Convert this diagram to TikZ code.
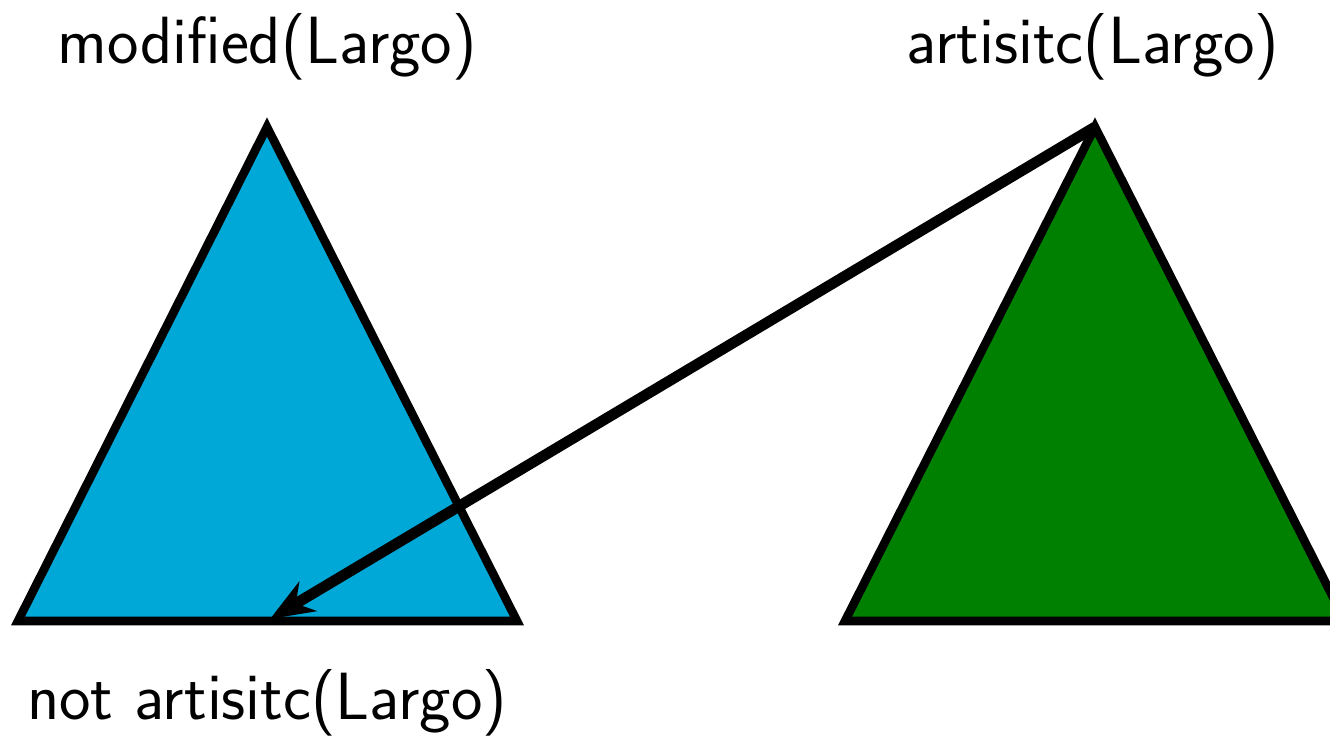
\documentclass[tikz,border=0pt]{standalone}
\usetikzlibrary{arrows.meta}
\definecolor{tblue}{RGB}{0,168,216}
\definecolor{tgreen}{RGB}{0,128,0}
\begin{document}
\begin{tikzpicture}[x=0.5pt,y=-0.5pt,
  tri/.style={draw=black,line width=4.3pt,line join=miter},
  lbl/.style={font=\fontsize{33.4}{38}\selectfont\sffamily,inner sep=0pt},
  arr/.style={line width=5.4pt,-{Stealth[length=22pt,width=17pt,inset=7pt]}}]
\useasboundingbox (0,0) rectangle (1330,735);
\coordinate (bt) at (267,127);
\coordinate (bl) at (18,621);
\coordinate (br) at (517,621);
\coordinate (bm) at (270,619);
\coordinate (gt) at (1095,127);
\coordinate (gl) at (845,621);
\coordinate (gr) at (1345,621);
\fill[tblue] (bt) -- (bl) -- (br) -- cycle;
\draw[tri] (bt) -- (bl) -- (br) -- cycle;
\fill[tgreen] (gt) -- (gl) -- (gr) -- cycle;
\draw[tri] (gt) -- (gl) -- (gr) -- cycle;
\draw[arr] (gt) -- (bm);
\node[lbl] (lmod) at (267,47) {modified(Largo)};
\node[lbl] (lart) at (1093,47) {artisitc(Largo)};
\node[lbl] (lnot) at (267,703) {not artisitc(Largo)};
\end{tikzpicture}
\end{document}
